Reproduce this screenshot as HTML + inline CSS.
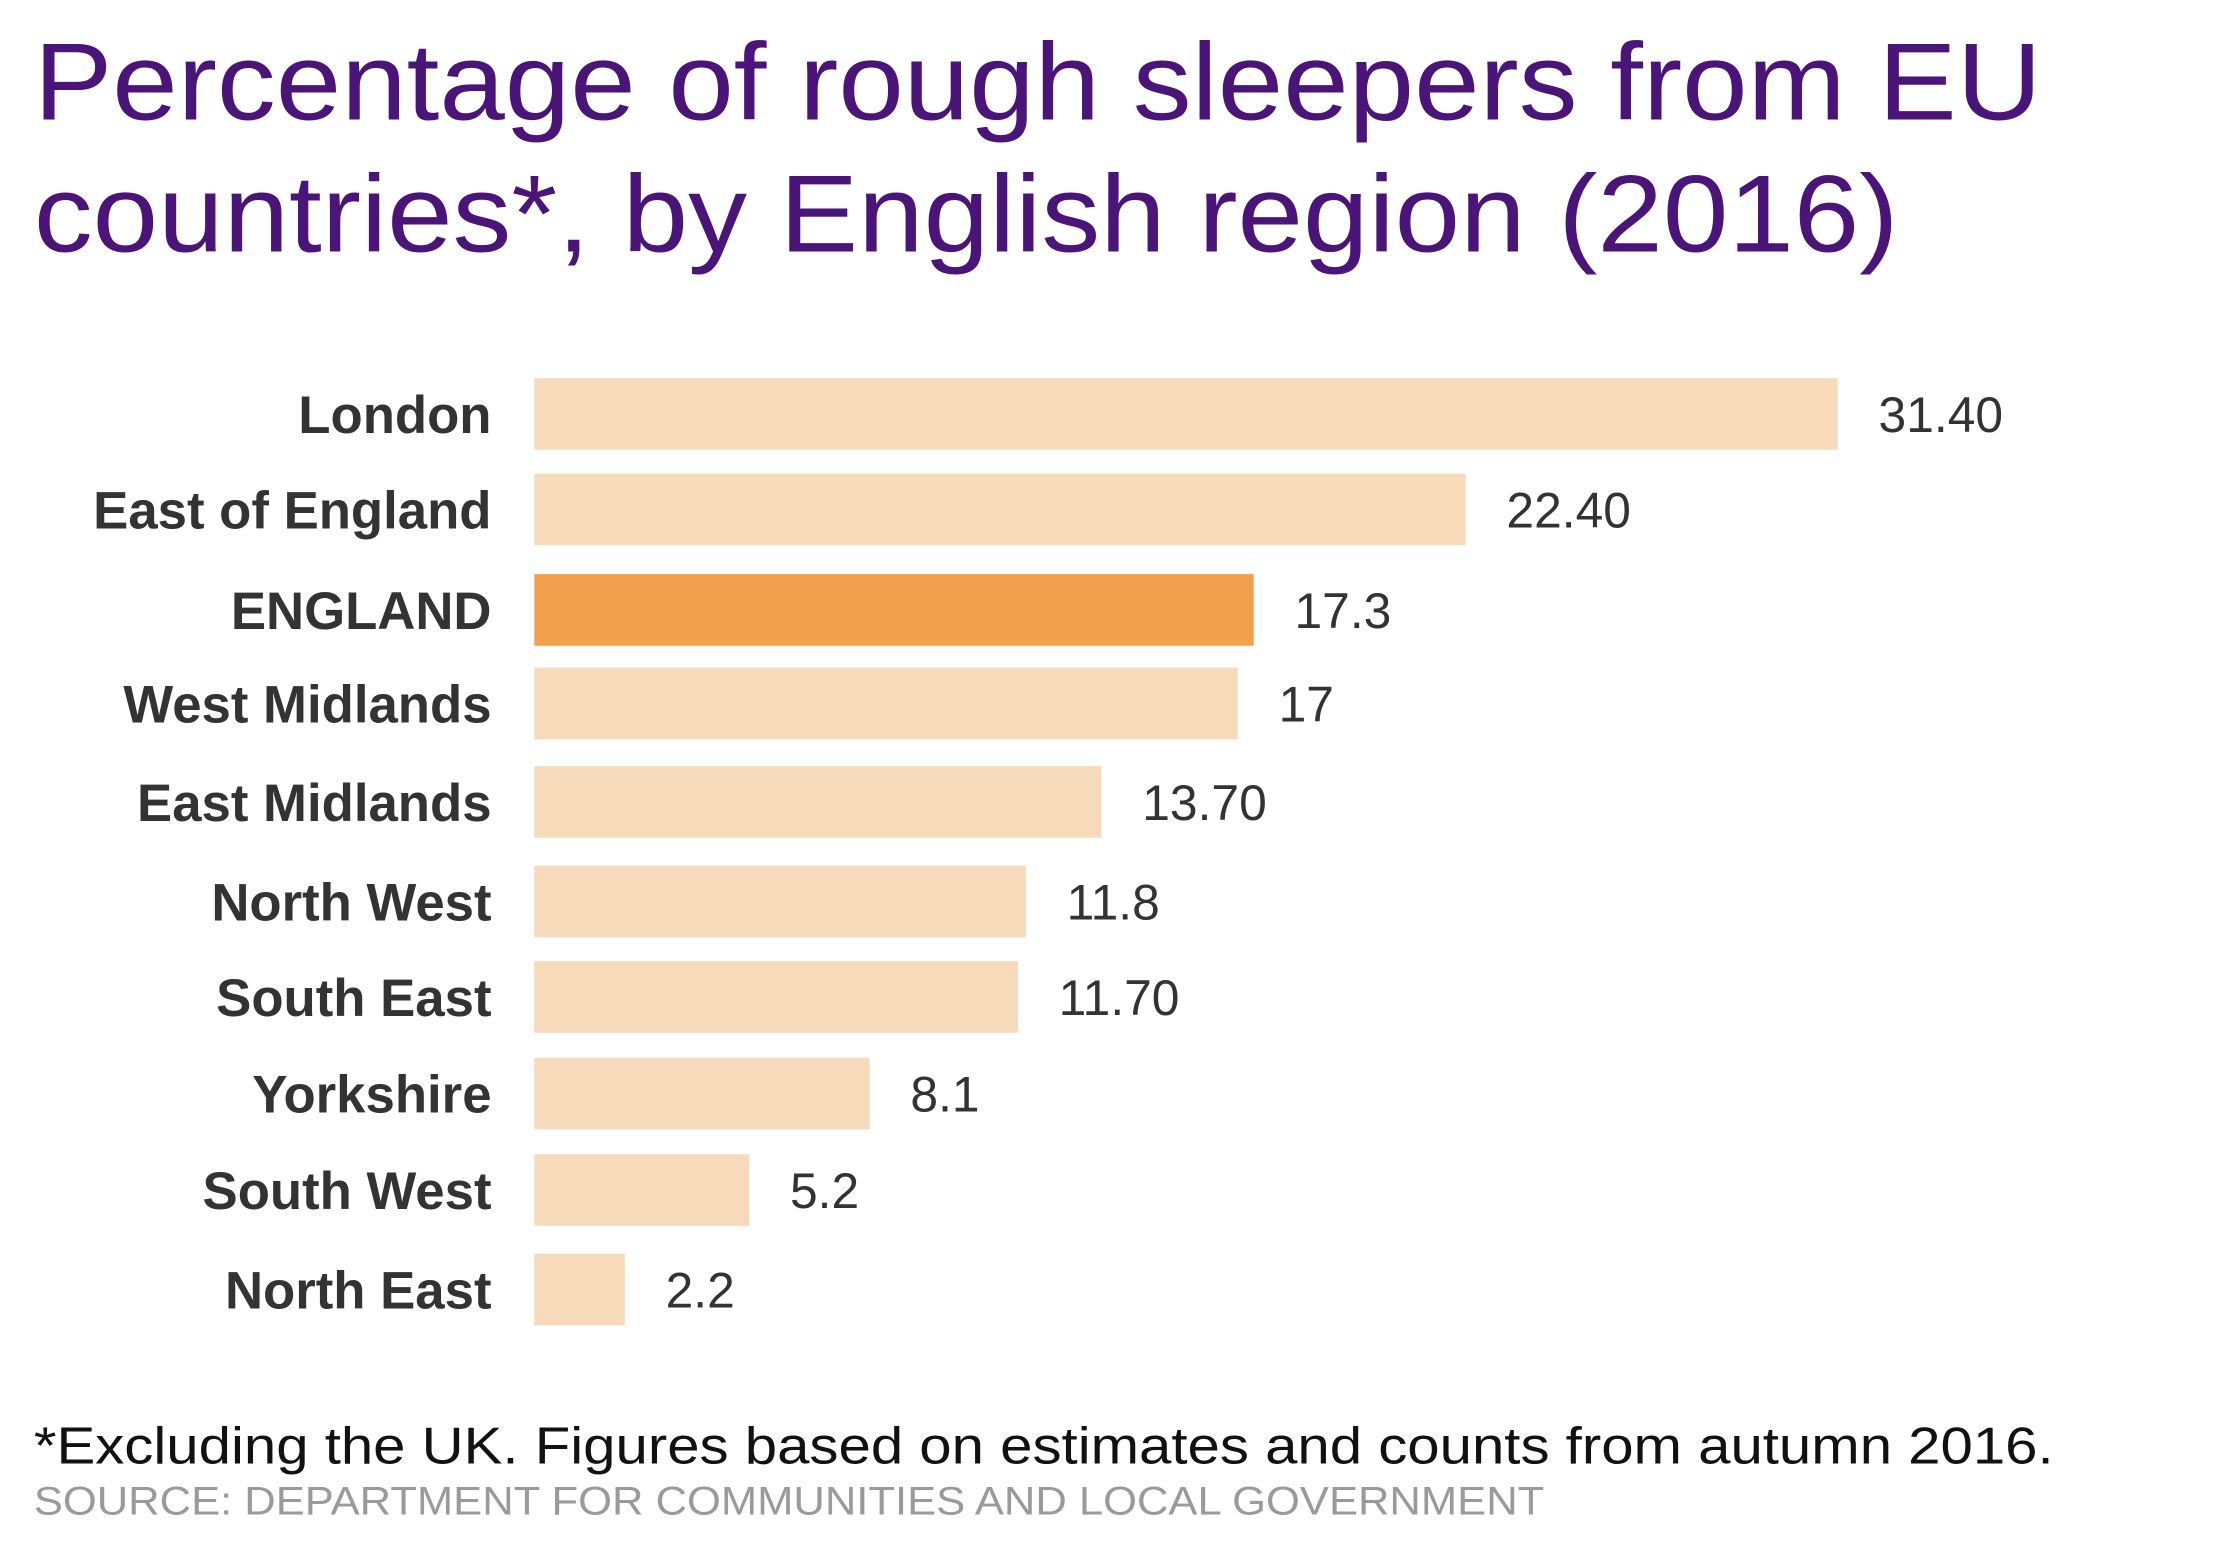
<!DOCTYPE html>
<html><head><meta charset="utf-8"><style>
html,body{margin:0;padding:0;background:#fff;}
svg{display:block;}
</style></head><body>
<svg width="2228" height="1558" xmlns="http://www.w3.org/2000/svg">
<rect width="2228" height="1558" fill="#fff"/>
<g transform="scale(0.995)">
<g font-family="Liberation Sans, sans-serif" fill="#4a1478" font-size="110">
<text x="34" y="120" textLength="2018" lengthAdjust="spacingAndGlyphs">Percentage of rough sleepers from EU</text>
<text x="34" y="253" textLength="1874" lengthAdjust="spacingAndGlyphs">countries*, by English region (2016)</text>
</g>
<g fill="#f7dab9">
<rect x="537" y="380" width="1310" height="72"/>
<rect x="537" y="476" width="936" height="72"/>
<rect x="537" y="671" width="707" height="72"/>
<rect x="537" y="770" width="570" height="72"/>
<rect x="537" y="870" width="494" height="72"/>
<rect x="537" y="966" width="486" height="72"/>
<rect x="537" y="1063" width="337" height="72"/>
<rect x="537" y="1160" width="216" height="72"/>
<rect x="537" y="1260" width="91" height="72"/>
</g>
<rect x="537" y="577" width="723" height="72" fill="#f29f4e"/>
<g font-family="Liberation Sans, sans-serif" font-weight="bold" font-size="53" fill="#333" text-anchor="end">
<text x="494" y="435">London</text>
<text x="494" y="531">East of England</text>
<text x="494" y="632">ENGLAND</text>
<text x="494" y="726">West Midlands</text>
<text x="494" y="825">East Midlands</text>
<text x="494" y="925">North West</text>
<text x="494" y="1021">South East</text>
<text x="494" y="1118">Yorkshire</text>
<text x="494" y="1215">South West</text>
<text x="494" y="1315">North East</text>
</g>
<g font-family="Liberation Sans, sans-serif" font-size="50" fill="#333">
<text x="1888" y="434">31.40</text>
<text x="1514" y="530">22.40</text>
<text x="1301" y="631">17.3</text>
<text x="1285" y="725">17</text>
<text x="1148" y="824">13.70</text>
<text x="1072" y="924">11.8</text>
<text x="1064" y="1020">11.70</text>
<text x="915" y="1117">8.1</text>
<text x="794" y="1214">5.2</text>
<text x="669" y="1314">2.2</text>
</g>
<text x="34" y="1471" font-family="Liberation Sans, sans-serif" font-size="52" fill="#111" textLength="2030" lengthAdjust="spacingAndGlyphs">*Excluding the UK. Figures based on estimates and counts from autumn 2016.</text>
<text x="34" y="1522" font-family="Liberation Sans, sans-serif" font-size="40" fill="#9a9a9a" textLength="1518" lengthAdjust="spacingAndGlyphs">SOURCE: DEPARTMENT FOR COMMUNITIES AND LOCAL GOVERNMENT</text>
</g>
</svg>
</body></html>
